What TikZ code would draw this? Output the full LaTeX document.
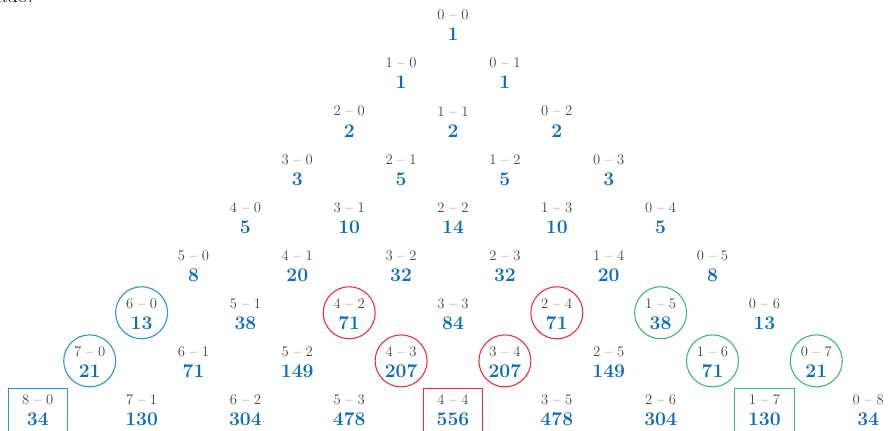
\documentclass[tikz,border=0pt]{standalone}
\usepackage{tikz}
\usetikzlibrary{calc}

\definecolor{numblue}{RGB}{17,110,181}
\definecolor{ringblue}{RGB}{40,146,212}
\definecolor{ringred}{RGB}{228,48,54}
\definecolor{ringgreen}{RGB}{58,184,120}

\begin{document}
\begin{tikzpicture}[
        x=0.75pt, y=-0.75pt,
        score/.style = {inner sep=0pt, text=black!72, font=\fontsize{11}{13}\selectfont},
        count/.style = {inner sep=0pt, text=numblue, font=\fontsize{14.5}{17}\selectfont\bfseries},
        ring/.style  = {circle, draw, line width=0.8pt, minimum size=39pt, inner sep=0pt},
        frame/.style = {rectangle, draw, line width=0.8pt, minimum width=44.5pt, minimum height=40pt, inner sep=0pt, anchor=north}
    ]
        \path[use as bounding box, clip] (0,0) rectangle (888,431);
        % cut-off text of the page above
        \node[anchor=base west, inner sep=0pt, font=\fontsize{16}{18}\selectfont] (frag) at (-3,3) {ado.};
        % triangle of scores and counts
        \foreach \r/\vals in {0/{1},1/{1,1},2/{2,2,2},3/{3,5,5,3},4/{5,10,14,10,5},
                5/{8,20,32,32,20,8},6/{13,38,71,84,71,38,13},
                7/{21,71,149,207,207,149,71,21},8/{34,130,304,478,556,478,304,130,34}}{
            \foreach \v [count=\k from 0] in \vals {
                \pgfmathtruncatemacro\i{\r-\k}
                \node[score] (s-\i-\k) at ({453+(\k-\i)*51.9}, {15+48.1*\r})   {\i\ -- \k};
                \node[count] (n-\i-\k) at ({453+(\k-\i)*51.9}, {34.5+48.1*\r}) {\v};
            }
        }
        % circled cells
        \foreach \i/\j/\c in {6/0/ringblue, 7/0/ringblue,
                4/2/ringred, 4/3/ringred, 3/4/ringred, 2/4/ringred,
                1/5/ringgreen, 1/6/ringgreen, 0/7/ringgreen}
            \node[ring, draw=\c] (r-\i-\j) at ($(s-\i-\j)!0.47!(n-\i-\j)$) {};
        % boxed cells
        \foreach \i/\j/\c in {8/0/ringblue, 4/4/ringred, 1/7/ringgreen}
            \node[frame, draw=\c] (b-\i-\j) at ([yshift=8.8pt]s-\i-\j.center) {};
    \end{tikzpicture}
\end{document}
